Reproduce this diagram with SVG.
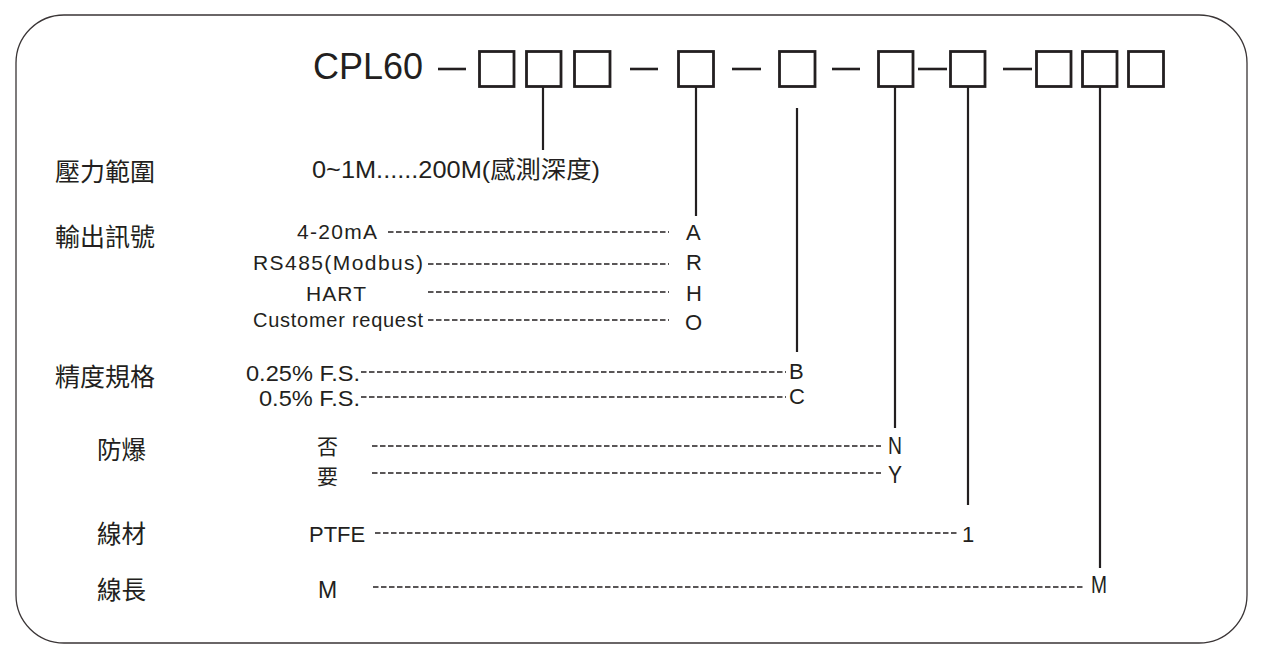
<svg xmlns="http://www.w3.org/2000/svg" width="1265" height="659" viewBox="0 0 1265 659">
<style>
.t{font-family:"Liberation Sans","Noto Sans CJK TC",sans-serif;fill:#231f20}
.cjk{font-family:"Noto Sans CJK TC","Noto Sans CJK SC",sans-serif;fill:#231f20}
.box{fill:none;stroke:#231f20;stroke-width:2.8}
.bar{stroke:#231f20;stroke-width:2.6}
.v{stroke:#231f20;stroke-width:2.2}
.d{stroke:#231f20;stroke-width:1.4;stroke-dasharray:5.5 2.5}
</style>
<rect x="16" y="15" width="1231" height="628" rx="48" ry="48" fill="#fff" stroke="#3a3536" stroke-width="1.3"/>
<g id="code">
<text class="t" x="313" y="79" font-size="36">CPL60</text>
<line class="bar" x1="438" y1="69" x2="466" y2="69"/>
<rect class="box" x="479.5" y="51.5" width="34.5" height="35"/>
<rect class="box" x="526.5" y="51.5" width="34.5" height="35"/>
<rect class="box" x="574.5" y="51.5" width="35.5" height="35"/>
<line class="bar" x1="630" y1="69" x2="658" y2="69"/>
<rect class="box" x="678.5" y="51.5" width="35" height="35"/>
<line class="bar" x1="732" y1="69" x2="761" y2="69"/>
<rect class="box" x="779.5" y="51.5" width="35.5" height="35"/>
<line class="bar" x1="832" y1="69" x2="860" y2="69"/>
<rect class="box" x="878.5" y="51.5" width="34.5" height="35"/>
<line class="bar" x1="918" y1="69" x2="947" y2="69"/>
<rect class="box" x="950.5" y="51.5" width="34.5" height="35"/>
<line class="bar" x1="1003" y1="69" x2="1032" y2="69"/>
<rect class="box" x="1036.5" y="51.5" width="34.5" height="35"/>
<rect class="box" x="1082.5" y="51.5" width="34.5" height="35"/>
<rect class="box" x="1128.5" y="51.5" width="35" height="35"/>
</g>
<g id="connectors">
<line class="v" x1="543" y1="87" x2="543" y2="150"/>
<line class="v" x1="696" y1="87" x2="696" y2="216"/>
<line class="v" x1="797" y1="108" x2="797" y2="352"/>
<line class="v" x1="895" y1="87" x2="895" y2="428"/>
<line class="v" x1="968" y1="87" x2="968" y2="505"/>
<line class="v" x1="1100" y1="87" x2="1100" y2="568"/>
<line class="d" x1="388" y1="232" x2="669" y2="232"/>
<line class="d" x1="428" y1="264" x2="669" y2="264"/>
<line class="d" x1="428" y1="292" x2="669" y2="292"/>
<line class="d" x1="428" y1="320" x2="669" y2="320"/>
<line class="d" x1="361" y1="372" x2="786" y2="372"/>
<line class="d" x1="361" y1="397" x2="786" y2="397"/>
<line class="d" x1="372" y1="446" x2="881" y2="446"/>
<line class="d" x1="372" y1="473" x2="881" y2="473"/>
<line class="d" x1="375" y1="533" x2="957" y2="533"/>
<line class="d" x1="373" y1="587" x2="1085" y2="587"/>
</g>
<g id="pressure">
<text class="cjk" x="55" y="181" font-size="25">壓力範圍</text>
<text class="t" x="312" y="178" font-size="24" textLength="288" lengthAdjust="spacingAndGlyphs">0~1M......200M(感測深度)</text>
</g>
<g id="output">
<text class="cjk" x="55" y="246" font-size="25">輸出訊號</text>
<text class="t" x="297" y="239" font-size="21" textLength="80">4-20mA</text>
<text class="t" x="253" y="270" font-size="21" textLength="170">RS485(Modbus)</text>
<text class="t" x="306" y="301" font-size="21" textLength="60">HART</text>
<text class="t" x="253" y="327" font-size="20" textLength="170">Customer request</text>
<text class="t" x="686" y="240" font-size="22">A</text>
<text class="t" x="686" y="270" font-size="22">R</text>
<text class="t" x="686" y="301" font-size="22">H</text>
<text class="t" x="685" y="330" font-size="22">O</text>
</g>
<g id="accuracy">
<text class="cjk" x="55" y="386" font-size="25">精度規格</text>
<text class="t" x="246" y="381" font-size="22.5" textLength="114" lengthAdjust="spacingAndGlyphs">0.25% F.S.</text>
<text class="t" x="259" y="406" font-size="22.5" textLength="101" lengthAdjust="spacingAndGlyphs">0.5% F.S.</text>
<text class="t" x="789" y="379" font-size="22">B</text>
<text class="t" x="789" y="404" font-size="22">C</text>
</g>
<g id="explosion">
<text class="cjk" x="97" y="459" font-size="24.5">防爆</text>
<text class="cjk" x="317" y="454" font-size="21">否</text>
<text class="cjk" x="317" y="484" font-size="21">要</text>
<text class="t" x="888" y="454" font-size="23" textLength="14" lengthAdjust="spacingAndGlyphs">N</text>
<text class="t" x="888" y="483" font-size="23" textLength="14" lengthAdjust="spacingAndGlyphs">Y</text>
</g>
<g id="cable">
<text class="cjk" x="97" y="543" font-size="24.5">線材</text>
<text class="t" x="309" y="542" font-size="22">PTFE</text>
<text class="t" x="962" y="542" font-size="22">1</text>
</g>
<g id="length">
<text class="cjk" x="97" y="599" font-size="24.5">線長</text>
<text class="t" x="318" y="598" font-size="23">M</text>
<text class="t" x="1091" y="593" font-size="23" textLength="16" lengthAdjust="spacingAndGlyphs">M</text>
</g>
</svg>
